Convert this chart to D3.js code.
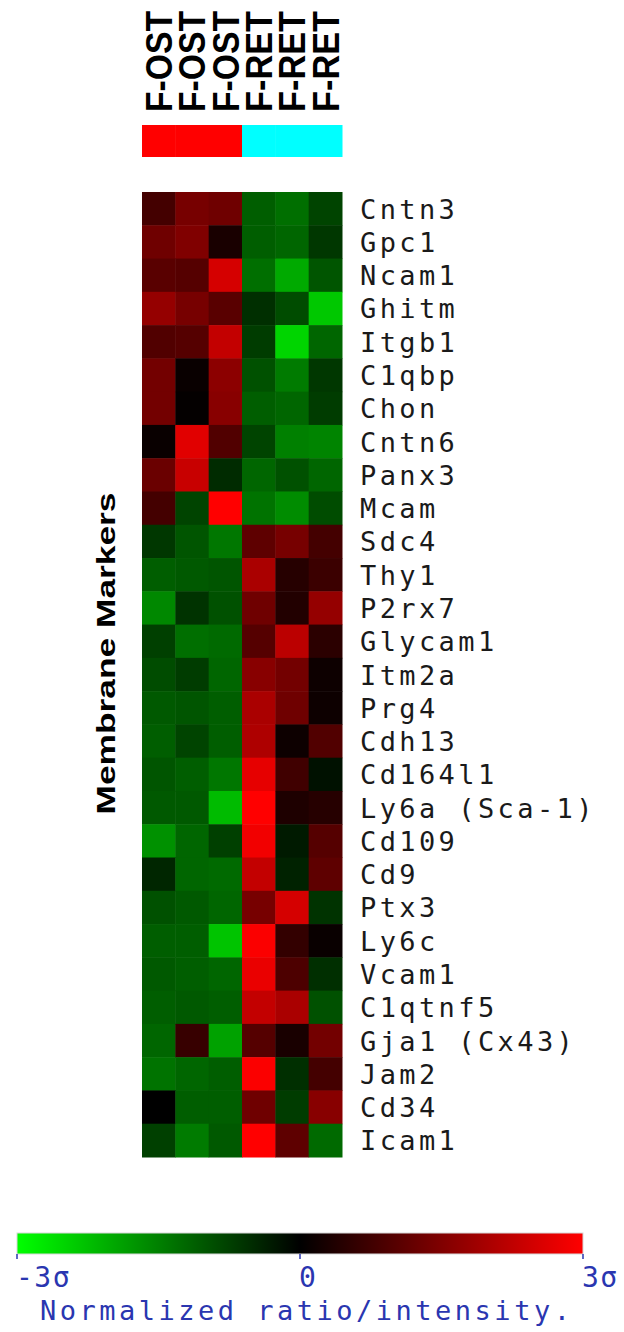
<!DOCTYPE html>
<html>
<head>
<meta charset="utf-8">
<script src="https://cdn.jsdelivr.net/npm/d3@7"></script>
<style>
  html, body { margin: 0; padding: 0; background: #fff; }
  svg { display: block; }
</style>
</head>
<body>
<svg id="chart" width="624" height="1332"></svg>
<script>
// Sample columns and their groups
const samples = ["F-OST", "F-OST", "F-OST", "F-RET", "F-RET", "F-RET"];
const groups = ["OST", "OST", "OST", "RET", "RET", "RET"];
const groupColors = { OST: "#ff0000", RET: "#00ffff" };

// Genes (rows)
const genes = [
  "Cntn3", "Gpc1", "Ncam1", "Ghitm", "Itgb1", "C1qbp", "Chon", "Cntn6", "Panx3", "Mcam",
  "Sdc4", "Thy1", "P2rx7", "Glycam1", "Itm2a", "Prg4", "Cdh13", "Cd164l1", "Ly6a (Sca-1)",
  "Cd109", "Cd9", "Ptx3", "Ly6c", "Vcam1", "C1qtnf5", "Gja1 (Cx43)", "Jam2", "Cd34", "Icam1"
];

// Normalized values (units of sigma), one row per gene, one entry per sample
const values = [
  [ 0.80,  1.40,  1.30, -1.10, -1.30, -0.80],
  [ 1.30,  1.50,  0.30, -1.10, -1.20, -0.65],
  [ 1.05,  1.00,  2.50, -1.30, -2.00, -1.00],
  [ 1.75,  1.40,  1.05, -0.55, -0.90, -2.35],
  [ 0.95,  1.00,  2.30, -0.70, -2.50, -1.20],
  [ 1.35,  0.10,  1.65, -0.95, -1.45, -0.65],
  [ 1.35,  0.05,  1.60, -1.10, -1.20, -0.70],
  [ 0.10,  2.65,  0.95, -0.80, -1.50, -1.55],
  [ 1.25,  2.35, -0.50, -1.20, -0.95, -1.20],
  [ 0.80, -0.80,  3.00, -1.35, -1.65, -0.90],
  [-0.65, -1.00, -1.40,  1.10,  1.40,  0.80],
  [-1.10, -1.05, -1.00,  2.00,  0.45,  0.70],
  [-1.60, -0.60, -0.95,  1.30,  0.40,  1.75],
  [-0.75, -1.30, -1.25,  1.00,  2.20,  0.50],
  [-0.90, -0.70, -1.20,  1.60,  1.35,  0.15],
  [-1.05, -1.00, -1.10,  2.00,  1.30,  0.15],
  [-1.10, -0.80, -1.10,  2.05,  0.15,  0.95],
  [-1.00, -1.10, -1.40,  2.70,  0.75, -0.20],
  [-1.05, -1.05, -2.20,  3.00,  0.35,  0.45],
  [-1.70, -1.20, -0.75,  2.85, -0.30,  1.00],
  [-0.45, -1.20, -1.25,  2.30, -0.40,  1.10],
  [-0.95, -1.05, -1.20,  1.40,  2.50, -0.60],
  [-1.10, -1.10, -2.30,  2.95,  0.60,  0.10],
  [-1.05, -1.10, -1.20,  2.75,  0.90, -0.55],
  [-1.10, -1.05, -1.10,  2.30,  2.00, -0.95],
  [-1.20,  0.65, -1.90,  1.00,  0.30,  1.35],
  [-1.35, -1.20, -1.10,  2.95, -0.55,  0.80],
  [ 0.00, -1.10, -1.10,  1.30, -0.70,  1.60],
  [-0.75, -1.45, -1.05,  3.00,  1.10, -1.25]
];

// Legend
const legendTicks = [-3, 0, 3];
const legendTickLabels = ["-3\u03c3", "0", "3\u03c3"];
const legendTitle = "Normalized ratio/intensity.";
const rowAxisTitle = "Membrane Markers";

const svg = d3.select("#chart");

const hm = { left: 142, right: 342, top: 192, bottom: 1157 };
const colIdx = d3.range(samples.length);

const x = d3.scaleBand().domain(colIdx).range([hm.left, hm.right]);
const y = d3.scaleBand().domain(genes).range([hm.top, hm.bottom]);
const color = d3.scaleLinear()
  .domain([-3, 0, 3])
  .range(["#00ff00", "#000000", "#ff0000"])
  .clamp(true);

// Column labels, rotated
svg.append("g")
  .selectAll("text")
  .data(colIdx)
  .join("text")
  .attr("transform", d => `translate(${x(d) + x.bandwidth() / 2},112) rotate(-90)`)
  .attr("dy", "0.36em")
  .attr("text-anchor", "start")
  .attr("font-family", "Liberation Sans, Arial, sans-serif")
  .attr("font-weight", "bold")
  .attr("font-size", 37)
  .attr("textLength", 101)
  .attr("lengthAdjust", "spacingAndGlyphs")
  .attr("fill", "#000")
  .text(d => samples[d]);

// Group colour strip
svg.append("g")
  .selectAll("rect")
  .data(colIdx)
  .join("rect")
  .attr("x", d => x(d))
  .attr("y", 125)
  .attr("width", x.bandwidth() + 0.5)
  .attr("height", 32)
  .attr("fill", d => groupColors[groups[d]]);

// Heatmap cells
const cells = [];
genes.forEach((g, i) => values[i].forEach((v, j) => cells.push({ gene: g, col: j, v })));

svg.append("g")
  .selectAll("rect")
  .data(cells)
  .join("rect")
  .attr("x", d => x(d.col))
  .attr("y", d => y(d.gene))
  .attr("width", x.bandwidth() + 0.5)
  .attr("height", y.bandwidth() + 0.5)
  .attr("fill", d => color(d.v));

// Gene labels
svg.append("g")
  .selectAll("text")
  .data(genes)
  .join("text")
  .attr("x", 360)
  .attr("y", d => y(d) + y.bandwidth() / 2 + 10)
  .attr("font-family", "DejaVu Sans Mono, monospace")
  .attr("font-size", 27)
  .attr("letter-spacing", 3.4)
  .attr("fill", "#1a1a1a")
  .text(d => d);

// Row axis title
svg.append("text")
  .attr("transform", `translate(106,${(492 + 815) / 2}) rotate(-90)`)
  .attr("dy", "0.36em")
  .attr("text-anchor", "middle")
  .attr("font-family", "Liberation Sans, Arial, sans-serif")
  .attr("font-weight", "bold")
  .attr("font-size", 25)
  .attr("textLength", 322)
  .attr("lengthAdjust", "spacingAndGlyphs")
  .attr("fill", "#000")
  .text(rowAxisTitle);

// Colour legend
const lg = { left: 17, right: 583, top: 1233, height: 21 };
const lx = d3.scaleLinear().domain([-3, 3]).range([lg.left, lg.right]);

const defs = svg.append("defs");
const grad = defs.append("linearGradient").attr("id", "legend-grad")
  .attr("x1", "0%").attr("x2", "100%").attr("y1", "0%").attr("y2", "0%");
grad.selectAll("stop")
  .data(d3.range(-3, 3.01, 0.5))
  .join("stop")
  .attr("offset", d => `${((d + 3) / 6) * 100}%`)
  .attr("stop-color", d => color(d));

svg.append("rect")
  .attr("x", lg.left)
  .attr("y", lg.top)
  .attr("width", lg.right - lg.left)
  .attr("height", lg.height)
  .attr("fill", "url(#legend-grad)")
  .attr("stroke", "#d8d8d8")
  .attr("stroke-width", 1);

const legendColor = "#2a36b0";
const lt = svg.append("g");
lt.selectAll("line")
  .data(legendTicks)
  .join("line")
  .attr("x1", d => lx(d)).attr("x2", d => lx(d))
  .attr("y1", lg.top + lg.height).attr("y2", lg.top + lg.height + 5)
  .attr("stroke", legendColor)
  .attr("stroke-width", 1.5);
lt.selectAll("text")
  .data(legendTicks)
  .join("text")
  .attr("x", d => lx(d) - 1)
  .attr("y", 1287)
  .attr("font-family", "DejaVu Sans Mono, monospace")
  .attr("font-size", 28)
  .attr("letter-spacing", 1.5)
  .attr("fill", legendColor)
  .text((d, i) => legendTickLabels[i]);

svg.append("text")
  .attr("x", 40)
  .attr("y", 1320)
  .attr("font-family", "DejaVu Sans Mono, monospace")
  .attr("font-size", 27)
  .attr("letter-spacing", 3.5)
  .attr("fill", legendColor)
  .text(legendTitle);
</script>
</body>
</html>
